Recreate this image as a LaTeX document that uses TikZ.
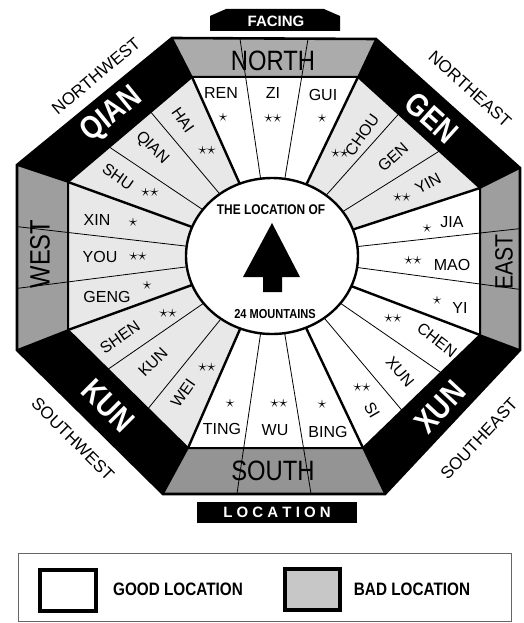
\documentclass[tikz,border=0pt]{standalone}
\usepackage{fontspec}
\setmainfont{Liberation Sans}
\newfontfamily\condfont[FakeStretch=0.85]{Liberation Sans}
\usetikzlibrary{calc}
\newcommand{\sstar}{$\star$}
\newcommand{\dstar}{$\star$\kern0.5pt$\star$}
\tikzset{
  mtn/.style={font=\fontsize{16}{16}\selectfont, inner sep=0pt},
  mstar/.style={font=\fontsize{17}{17}\selectfont, inner sep=0pt},
  trig/.style={text=white, font=\condfont\bfseries\fontsize{32}{32}\selectfont, inner sep=0pt},
  card/.style={font=\condfont\fontsize{28}{28}\selectfont, inner sep=0pt},
  dirn/.style={font=\fontsize{17}{17}\selectfont, inner sep=0pt},
  tagtxt/.style={text=white, font=\bfseries\fontsize{15}{15}\selectfont, inner sep=0pt},
  legtxt/.style={font=\condfont\bfseries\fontsize{18}{18}\selectfont, inner sep=0pt}
}

\begin{document}
\begin{tikzpicture}[x=1pt,y=-1pt]
\useasboundingbox (0,0) rectangle (523,623);
\coordinate (c) at (272,256);
\coordinate (o1) at (172,38);
\coordinate (o2) at (376,39);
\coordinate (o3) at (520,168);
\coordinate (o4) at (520,350);
\coordinate (o5) at (385,494);
\coordinate (o6) at (163,494);
\coordinate (o7) at (17,350);
\coordinate (o8) at (17,165);
\coordinate (i1) at (192,77);
\coordinate (i2) at (358,77);
\coordinate (i3) at (480,188);
\coordinate (i4) at (480,335);
\coordinate (i5) at (363,448);
\coordinate (i6) at (188,448);
\coordinate (i7) at (68,330);
\coordinate (i8) at (68,182);

\fill[black!33] (o1) -- (o2) -- (i2) -- (i1) -- cycle;
\fill (o2) -- (o3) -- (i3) -- (i2) -- cycle;
\fill[black!38] (o3) -- (o4) -- (i4) -- (i3) -- cycle;
\fill (o4) -- (o5) -- (i5) -- (i4) -- cycle;
\fill[black!42] (o5) -- (o6) -- (i6) -- (i5) -- cycle;
\fill (o6) -- (o7) -- (i7) -- (i6) -- cycle;
\fill[black!38] (o7) -- (o8) -- (i8) -- (i7) -- cycle;
\fill (o8) -- (o1) -- (i1) -- (i8) -- cycle;

\fill[white] (c) -- (i1) -- (i2) -- cycle;
\fill[black!9] (c) -- (i2) -- (i3) -- cycle;
\fill[white] (c) -- (i3) -- (i4) -- cycle;
\fill[white] (c) -- (i4) -- (i5) -- cycle;
\fill[white] (c) -- (i5) -- (i6) -- cycle;
\fill[black!9] (c) -- (i6) -- (i7) -- cycle;
\fill[black!9] (c) -- (i7) -- (i8) -- cycle;
\fill[black!9] (c) -- (i8) -- (i1) -- cycle;

\draw[line width=0.8pt] (c) -- ($(o1)!0.333!(o2)$) (c) -- ($(o1)!0.667!(o2)$);
\draw[line width=0.8pt] (c) -- ($(i2)!0.333!(i3)$) (c) -- ($(i2)!0.667!(i3)$);
\draw[line width=0.8pt] (c) -- ($(o3)!0.333!(o4)$) (c) -- ($(o3)!0.667!(o4)$);
\draw[line width=0.8pt] (c) -- ($(i4)!0.333!(i5)$) (c) -- ($(i4)!0.667!(i5)$);
\draw[line width=0.8pt] (c) -- ($(o5)!0.333!(o6)$) (c) -- ($(o5)!0.667!(o6)$);
\draw[line width=0.8pt] (c) -- ($(i6)!0.333!(i7)$) (c) -- ($(i6)!0.667!(i7)$);
\draw[line width=0.8pt] (c) -- ($(o7)!0.333!(o8)$) (c) -- ($(o7)!0.667!(o8)$);
\draw[line width=0.8pt] (c) -- ($(i8)!0.333!(i1)$) (c) -- ($(i8)!0.667!(i1)$);

\draw[line width=2.4pt] (c) -- (i1) (c) -- (i2) (c) -- (i3) (c) -- (i4)
  (c) -- (i5) (c) -- (i6) (c) -- (i7) (c) -- (i8);
\draw[line width=2pt] (i1) -- (i2) -- (i3) -- (i4) -- (i5) -- (i6) -- (i7) -- (i8) -- cycle;
\draw[line width=1.6pt] (o1) -- (i1) (o2) -- (i2) (o3) -- (i3) (o4) -- (i4)
  (o5) -- (i5) (o6) -- (i6) (o7) -- (i7) (o8) -- (i8);
\draw[line width=2.6pt] (o1) -- (o2) -- (o3) -- (o4) -- (o5) -- (o6) -- (o7) -- (o8) -- cycle;

\filldraw[fill=white, line width=2.4pt] (c) ellipse [x radius=86, y radius=78];
\fill (272,223) -- (300,277) -- (282,277) -- (282,292) -- (263,292) -- (263,277) -- (243,277) -- cycle;
\node[font=\condfont\bfseries\fontsize{14}{14}\selectfont, inner sep=0pt] (ctop) at (271,210) {THE LOCATION OF};
\node[font=\condfont\bfseries\fontsize{13}{13}\selectfont, inner sep=0pt] (cbot) at (275,314) {24 MOUNTAINS};

\node[card] (north) at (273,61) {NORTH};
\node[card] (south) at (273,471) {SOUTH};
\node[card, rotate=90] (west) at (40,254) {WEST};
\node[card, rotate=90, font=\condfont\fontsize{25}{25}\selectfont] (east) at (504,262) {EAST};
\node[trig, rotate=39] (qian) at (112,115) {QIAN};
\node[trig, rotate=-42] (gen) at (432,118) {GEN};
\node[trig, rotate=47] (xun) at (440,407) {XUN};
\node[trig, rotate=-45] (kun) at (108,406) {KUN};

\node[dirn, rotate=40] (nw) at (96,76) {NORTHWEST};
\node[dirn, rotate=-42] (ne) at (470,89) {NORTHEAST};
\node[dirn, rotate=-45] (sw) at (73,439) {SOUTHWEST};
\node[dirn, rotate=47] (se) at (479,439) {SOUTHEAST};

\node[mtn] (ren) at (221,93) {REN};
\node[mtn] (zi) at (273,93) {ZI};
\node[mtn] (gui) at (323,95) {GUI};
\node[mstar] (sren) at (223,117) {\sstar};
\node[mstar] (szi) at (273,118) {\dstar};
\node[mstar] (sgui) at (322,118) {\sstar};

\node[mtn, rotate=55] (chou) at (362,135) {CHOU};
\node[mtn, rotate=42] (gen2) at (393,157) {GEN};
\node[mtn, rotate=28] (yin) at (428,183) {YIN};
\node[mstar] (schou) at (340,153) {\dstar};
\node[mstar] (syin) at (402,197) {\dstar};

\node[mtn] (jia) at (452,222) {JIA};
\node[mtn] (mao) at (452,265) {MAO};
\node[mtn] (yi) at (460,308) {YI};
\node[mstar] (sjia) at (427,228) {\sstar};
\node[mstar] (smao) at (413,260) {\dstar};
\node[mstar] (syi) at (437,300) {\sstar};

\node[mtn, rotate=-38] (chen) at (437,340) {CHEN};
\node[mtn, rotate=-50] (xun2) at (400,372) {XUN};
\node[mtn, rotate=-60] (si) at (372,410) {SI};
\node[mstar] (schen) at (393,318) {\dstar};
\node[mstar] (ssi) at (362,387) {\dstar};

\node[mtn] (ting) at (222,429) {TING};
\node[mtn] (wu) at (275,430) {WU};
\node[mtn] (bing) at (328,432) {BING};
\node[mstar] (sting) at (230,403) {\sstar};
\node[mstar] (swu) at (279,403) {\dstar};
\node[mstar] (sbing) at (322,404) {\sstar};

\node[mtn, rotate=35] (shen) at (120,337) {SHEN};
\node[mtn, rotate=45] (kun2) at (153,362) {KUN};
\node[mtn, rotate=55] (wei) at (183,393) {WEI};
\node[mstar] (sshen) at (168,313) {\dstar};
\node[mstar] (swei) at (207,367) {\dstar};

\node[mtn] (xin) at (97,220) {XIN};
\node[mtn] (you) at (100,257) {YOU};
\node[mtn] (geng) at (107,297) {GENG};
\node[mstar] (sxin) at (133,222) {\sstar};
\node[mstar] (syou) at (138,256) {\dstar};
\node[mstar] (sgeng) at (147,285) {\sstar};

\node[mtn, rotate=-55] (hai) at (183,120) {HAI};
\node[mtn, rotate=-45] (qian2) at (152,148) {QIAN};
\node[mtn, rotate=-35] (shu) at (118,177) {SHU};
\node[mstar] (shai) at (207,150) {\dstar};
\node[mstar] (sshu) at (150,192) {\dstar};

\fill (210,31) -- (210,16) -- (226,9) -- (324,9) -- (340,16) -- (340,31) -- cycle;
\node[tagtxt] (facing) at (276,21) {FACING};
\node[fill=black, minimum width=160pt, minimum height=21pt, inner sep=0pt] (locbox) at (277,512.5) {};
\node[tagtxt] (location) at (locbox) {L O C A T I O N};

\draw[black!60, line width=0.8pt] (18,553) rectangle (511,621);
\draw[line width=4pt] (40,570) rectangle (96,611);
\filldraw[fill=black!22, line width=4pt] (285,569) rectangle (340,610);
\node[legtxt] (good) at (178,589) {GOOD LOCATION};
\node[legtxt] (bad) at (412,589) {BAD LOCATION};
\end{tikzpicture}
\end{document}
